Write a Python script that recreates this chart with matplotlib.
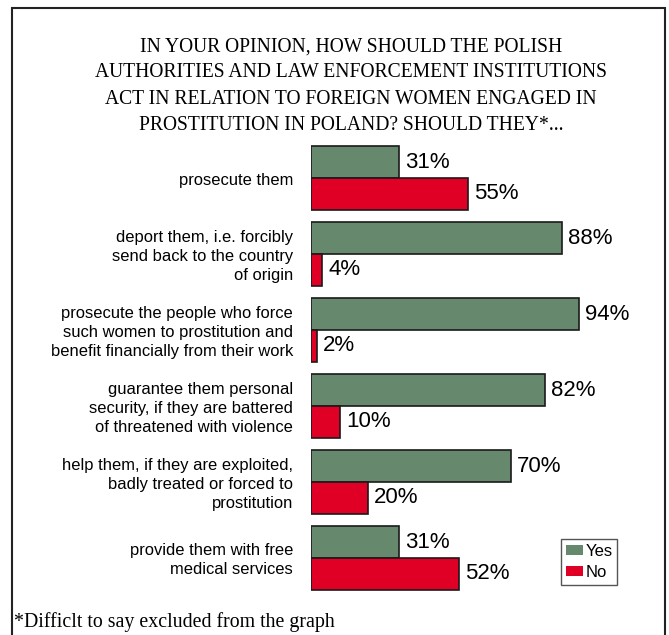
import matplotlib.pyplot as plt
from matplotlib.patches import Rectangle, Patch
from matplotlib.transforms import blended_transform_factory

categories = [
    "prosecute them",
    "deport them, i.e. forcibly\nsend back to the country\nof origin",
    "prosecute the people who force\nsuch women to prostitution and\nbenefit financially from their work",
    "guarantee them personal\nsecurity, if they are battered\nof threatened with violence",
    "help them, if they are exploited,\nbadly treated or forced to\nprostitution",
    "provide them with free\nmedical services",
]
yes_pct = [31, 88, 94, 82, 70, 31]
no_pct = [55, 4, 2, 10, 20, 52]
series_labels = ["Yes", "No"]

title = ("IN YOUR OPINION, HOW SHOULD THE POLISH\n"
         "AUTHORITIES AND LAW ENFORCEMENT INSTITUTIONS\n"
         "ACT IN RELATION TO FOREIGN WOMEN ENGAGED IN\n"
         "PROSTITUTION IN POLAND? SHOULD THEY*...")
footnote = "*Difficlt to say excluded from the graph"

GREEN = "#66896d"
RED = "#e00025"
W, H = 669, 635


def main():
    fig = plt.figure(figsize=(W / 100, H / 100), dpi=100)
    fig.patch.set_facecolor("white")

    # plotting area: bars start at x=311px, 100% = 285px
    ax = fig.add_axes([311 / W, 1 - 596 / H, 285 / W, 456 / H])
    ax.set_xlim(0, 100)
    ax.set_ylim(len(categories) - 0.5, -0.5)
    ax.axis("off")

    bh = 0.421
    ys = list(range(len(categories)))
    ax.barh([y - bh / 2 for y in ys], yes_pct, height=bh, color=GREEN,
            edgecolor="#1a1a1a", linewidth=1.2)
    ax.barh([y + bh / 2 for y in ys], no_pct, height=bh, color=RED,
            edgecolor="#1a1a1a", linewidth=1.2)

    for y, v in zip(ys, yes_pct):
        ax.annotate(f"{v}%", (v, y - bh / 2), xytext=(4.5, 0), textcoords="offset points",
                    ha="left", va="center", fontsize=16, family="Liberation Sans")
    for y, v in zip(ys, no_pct):
        ax.annotate(f"{v}%", (v, y + bh / 2), xytext=(4.5, 0), textcoords="offset points",
                    ha="left", va="center", fontsize=16, family="Liberation Sans")

    tr = blended_transform_factory(ax.transAxes, ax.transData)
    for y, lab in zip(ys, categories):
        ax.text(-18 / 285, y + 0.03, lab, transform=tr, ha="right", va="center",
                multialignment="right", fontsize=11.9, family="Liberation Sans",
                linespacing=1.32)

    fig.text(351 / W, 1 - 86 / H, title, ha="center", va="center",
             fontsize=14.1, family="Liberation Serif", linespacing=1.52)
    fig.text(14 / W, 1 - 622 / H, footnote, ha="left", va="center",
             fontsize=14.3, family="Liberation Serif")

    handles = [Patch(facecolor=GREEN, edgecolor="none"),
               Patch(facecolor=RED, edgecolor="none")]
    leg = fig.legend(handles, series_labels, loc="upper left",
                     bbox_to_anchor=(561 / W, 1 - 539 / H), fancybox=False,
                     edgecolor="#555555", framealpha=1, handlelength=1.0,
                     handleheight=0.6, handletextpad=0.15, borderpad=0.3,
                     labelspacing=0.35, borderaxespad=0,
                     prop={"family": "Liberation Sans", "size": 12})
    leg.get_frame().set_linewidth(1.0)

    # outer frame, open at the bottom edge
    fig.add_artist(Rectangle((12 / W, -0.05), (665 - 12) / W, 1.05 - 8 / H,
                             transform=fig.transFigure, fill=False,
                             edgecolor="#222222", linewidth=1.5))

    fig.savefig("out.png", dpi=100, facecolor="white")
    plt.close(fig)


if __name__ == "__main__":
    main()
